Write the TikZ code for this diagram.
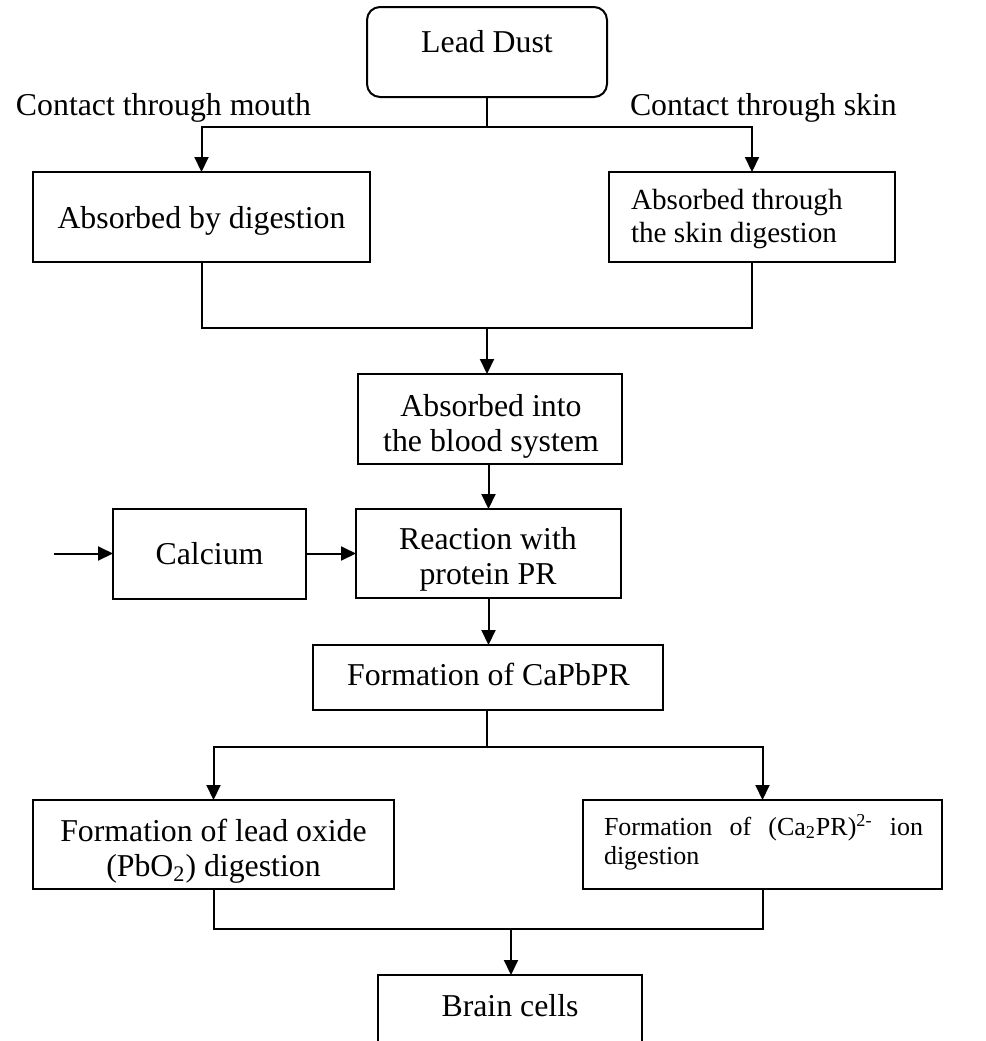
\documentclass[tikz,border=0pt]{standalone}
\usepackage{fontspec}
\setmainfont{Liberation Serif}
\usepackage{tikz}
\usetikzlibrary{arrows.meta}
\newcommand{\flowsz}{\fontsize{15.9pt}{17.5pt}\selectfont}
\newcommand{\skinsz}{\fontsize{14.6pt}{16.5pt}\selectfont}
\newcommand{\ionsz}{\fontsize{13pt}{14.5pt}\selectfont}
\newcommand{\topstrut}{\rule{0pt}{12pt}}

\begin{document}
\begin{tikzpicture}[x=0.5pt,y=-0.5pt,line width=1pt,
  box/.style={draw,rectangle,inner sep=0pt,outer sep=0pt},
  txt/.style={inner sep=0pt,font=\flowsz},
  arr/.style={-{Triangle[length=7.5pt,width=7pt]}}]
  \useasboundingbox (0,0) rectangle (986,1041);

  % boxes
  \node[box,rounded corners=6.5pt,minimum width=120pt,minimum height=45pt] (dust) at (487,52) {};
  \node[box,minimum width=168.5pt,minimum height=45pt] (mouth) at (201.5,217) {};
  \node[box,minimum width=143pt,minimum height=45pt] (skin) at (752,217) {};
  \node[box,minimum width=132pt,minimum height=45pt] (blood) at (490,419) {};
  \node[box,minimum width=96.5pt,minimum height=45pt] (calcium) at (209.5,553.5) {};
  \node[box,minimum width=132.5pt,minimum height=44.5pt] (react) at (488.5,553.5) {};
  \node[box,minimum width=175pt,minimum height=32.5pt] (capb) at (488,677.5) {};
  \node[box,minimum width=180.5pt,minimum height=44.5pt] (oxide) at (213.5,844.5) {};
  \node[box,minimum width=179.5pt,minimum height=44.5pt] (ion) at (762.5,844.5) {};
  \node[box,minimum width=132pt,minimum height=45pt] (brain) at (510,1020) {};

  % texts
  \node[txt,anchor=base] (dusttxt) at (487,52) {Lead Dust};
  \node[txt,anchor=base west] (mouthlbl) at (15,115) {Contact through mouth};
  \node[txt,anchor=base west] (skinlbl) at (629,115) {Contact through skin};
  \node[txt,anchor=base] (mouthtxt) at (201.5,228) {Absorbed by digestion};
  \node[txt,font=\skinsz,anchor=north west,align=left] (skintxt) at (630,184)
    {\topstrut Absorbed through\\the skin digestion};
  \node[txt,anchor=north,align=center] (bloodtxt) at (491,391)
    {\topstrut Absorbed into\\the blood system};
  \node[txt,anchor=base] (catxt) at (209.5,564) {Calcium};
  \node[txt,anchor=north,align=center] (reacttxt) at (488,524)
    {\topstrut Reaction with\\protein PR};
  \node[txt,anchor=base] (capbtxt) at (488.5,685) {Formation of CaPbPR};
  \node[txt,anchor=north,align=center] (oxidetxt) at (213.5,816)
    {\topstrut Formation of lead oxide\\(PbO\textsubscript{2}) digestion};
  \node[txt,font=\ionsz,anchor=north west,text width=159.5pt,align=justify] (iontxt) at (603,810)
    {\noindent\topstrut Formation of (Ca\textsubscript{2}PR)\textsuperscript{2-} ion \mbox{digestion}};
  \node[txt,anchor=base] (braintxt) at (510,1016) {Brain cells};

  % connectors
  \coordinate (fork1) at (487,127);
  \draw (dust) -- (fork1);
  \draw[arr] (fork1) -| (mouth);
  \draw[arr] (fork1) -| (skin);
  \coordinate (join1) at (487,328);
  \draw (mouth) |- (join1) -| (skin);
  \draw[arr] (join1) -- (join1 |- blood.north);
  \draw[arr] (blood.south -| react.north) -- (react.north);
  \coordinate (cain) at (54,553.5);
  \draw[arr] (cain) -- (calcium);
  \draw[arr] (calcium) -- (react);
  \draw[arr] (react.south) -- (react.south |- capb.north);
  \coordinate (fork2) at (487,747);
  \draw (capb.south -| fork2) -- (fork2);
  \draw[arr] (fork2) -| (oxide);
  \draw[arr] (fork2) -| (ion);
  \coordinate (join2) at (511,929);
  \draw (oxide) |- (join2) -| (ion);
  \draw[arr] (join2) -- (join2 |- brain.north);
\end{tikzpicture}
\end{document}
